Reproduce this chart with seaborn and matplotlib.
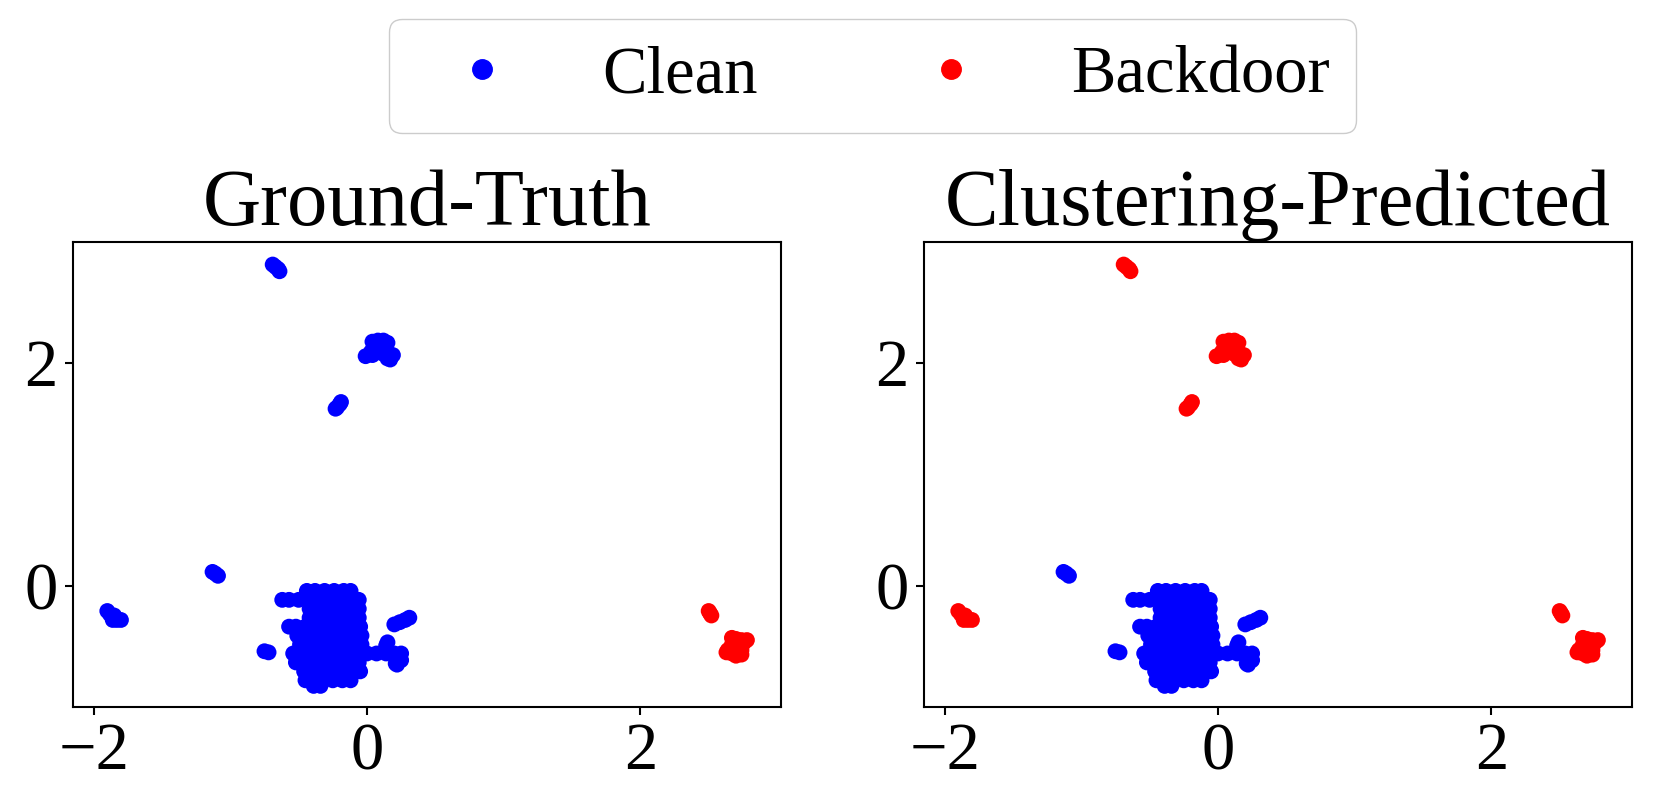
import pandas as pd
import seaborn as sns
import matplotlib.pyplot as plt
from matplotlib.lines import Line2D

# --- point coordinates read off the 2-D embedding ---
# main clean blob, stored row by row (one y value per row)
main_row_y = [-0.04, -0.12, -0.20, -0.28, -0.36, -0.44, -0.52, -0.60, -0.68, -0.76, -0.84, -0.89]
main_row_x = [
    [-0.44, -0.38, -0.31, -0.24, -0.17, -0.12],
    [-0.62, -0.57, -0.50, -0.43, -0.36, -0.29, -0.22, -0.15, -0.08, -0.06],
    [-0.42, -0.37, -0.31, -0.25, -0.18, -0.11, -0.06],
    [-0.42, -0.37, -0.31, -0.25, -0.18, -0.11, -0.06],
    [-0.57, -0.52, -0.45, -0.38, -0.31, -0.24, -0.17, -0.10, -0.05],
    [-0.51, -0.45, -0.38, -0.31, -0.24, -0.17, -0.10, -0.04],
    [-0.49, -0.43, -0.36, -0.29, -0.22, -0.15, -0.08, -0.04],
    [-0.54, -0.49, -0.42, -0.35, -0.28, -0.21, -0.14, -0.07, 0.00, 0.07, 0.14, 0.20, 0.25],
    [-0.52, -0.47, -0.40, -0.33, -0.26, -0.19, -0.12, -0.06],
    [-0.46, -0.40, -0.33, -0.26, -0.19, -0.12, -0.05],
    [-0.45, -0.39, -0.32, -0.25, -0.18, -0.12],
    [-0.39, -0.34],
]
# small lobes attached to the main blob
lobe_x = [0.14, 0.15, 0.25, 0.21, 0.22]
lobe_y = [-0.53, -0.50, -0.66, -0.69, -0.70]
# short streak right of the main blob
rstreak_x = [0.20, 0.24, 0.28, 0.31]
rstreak_y = [-0.34, -0.32, -0.30, -0.28]
# lone pair left of the main blob
ldot_x = [-0.75, -0.72]
ldot_y = [-0.58, -0.59]
# streak near (-1.1, 0.1)
mstreak_x = [-1.13, -1.11, -1.09]
mstreak_y = [0.13, 0.115, 0.095]
# far left group
far_x = [-1.90, -1.88, -1.86, -1.86, -1.83, -1.80, -1.85]
far_y = [-0.22, -0.25, -0.28, -0.30, -0.30, -0.30, -0.26]
# top streak
top_x = [-0.69, -0.67, -0.65, -0.64]
top_y = [2.88, 2.86, 2.84, 2.82]
# upper blob around (0.1, 2.1)
up_x = [0.04, 0.08, 0.12, 0.15, 0.05, 0.10, 0.14, 0.03, 0.07, 0.12, 0.16, 0.19, -0.01, 0.04, 0.15, 0.17]
up_y = [2.19, 2.20, 2.20, 2.18, 2.15, 2.15, 2.13, 2.10, 2.10, 2.08, 2.08, 2.07, 2.06, 2.07, 2.04, 2.03]
# small streak near (-0.2, 1.6)
ustreak_x = [-0.23, -0.22, -0.20, -0.19]
ustreak_y = [1.59, 1.60, 1.63, 1.65]
# backdoor streak and blob on the right
bstreak_x = [2.50, 2.51, 2.52]
bstreak_y = [-0.22, -0.24, -0.26]
bblob_x = [2.67, 2.70, 2.74, 2.78, 2.76, 2.72, 2.67, 2.64, 2.63, 2.67, 2.70, 2.74, 2.74, 2.69]
bblob_y = [-0.46, -0.47, -0.48, -0.48, -0.50, -0.52, -0.52, -0.57, -0.59, -0.60, -0.62, -0.61, -0.57, -0.56]

main_x = [x for row in main_row_x for x in row]
main_y = [y for y, row in zip(main_row_y, main_row_x) for _ in row]

# (x, y, ground-truth label, clustering label)
clusters = [
    (main_x, main_y, 'Clean', 'Clean'),
    (lobe_x, lobe_y, 'Clean', 'Clean'),
    (rstreak_x, rstreak_y, 'Clean', 'Clean'),
    (ldot_x, ldot_y, 'Clean', 'Clean'),
    (mstreak_x, mstreak_y, 'Clean', 'Clean'),
    (far_x, far_y, 'Clean', 'Backdoor'),
    (top_x, top_y, 'Clean', 'Backdoor'),
    (up_x, up_y, 'Clean', 'Backdoor'),
    (ustreak_x, ustreak_y, 'Clean', 'Backdoor'),
    (bstreak_x, bstreak_y, 'Backdoor', 'Backdoor'),
    (bblob_x, bblob_y, 'Backdoor', 'Backdoor'),
]
frames = [pd.DataFrame({'x': cx, 'y': cy, 'truth': t, 'pred': p}) for cx, cy, t, p in clusters]
df = pd.concat(frames, ignore_index=True)

hue_order = ['Clean', 'Backdoor']
palette = {'Clean': '#0000ff', 'Backdoor': '#ff0000'}

sns.set_theme(style='ticks')
plt.rcParams['font.family'] = ['Liberation Serif', 'DejaVu Serif']
plt.rcParams['axes.edgecolor'] = 'black'
plt.rcParams['axes.linewidth'] = 1.5
plt.rcParams['text.color'] = 'black'
plt.rcParams['xtick.color'] = 'black'
plt.rcParams['ytick.color'] = 'black'

fig, axes = plt.subplots(1, 2, figsize=(16.62, 8.1), dpi=100)
fig.subplots_adjust(left=0.044, right=0.982, bottom=0.127, top=0.701, wspace=0.202)

for ax, col, title in zip(axes, ['truth', 'pred'], ['Ground-Truth', 'Clustering-Predicted']):
    sns.scatterplot(data=df, x='x', y='y', hue=col, hue_order=hue_order, palette=palette,
                    s=130, linewidth=0, legend=False, ax=ax)
    ax.set_xlim(-2.15, 3.03)
    ax.set_ylim(-1.08, 3.08)
    ax.set_xticks([-2, 0, 2])
    ax.set_yticks([0, 2])
    ax.set_xlabel('')
    ax.set_ylabel('')
    ax.tick_params(labelsize=48, length=6, width=1.5, color='black', labelcolor='black', pad=5)
    ax.set_title(title, fontsize=58, pad=12, color='black')

handles = [Line2D([], [], marker='o', linestyle='', color=palette[k], markersize=14) for k in hue_order]
fig.legend(handles, hue_order, loc='upper center', bbox_to_anchor=(0.525, 1.018), ncol=2,
           fontsize=48, frameon=True, columnspacing=1.9, edgecolor='#cccccc', framealpha=1)

fig.savefig('out.png', dpi=100)
